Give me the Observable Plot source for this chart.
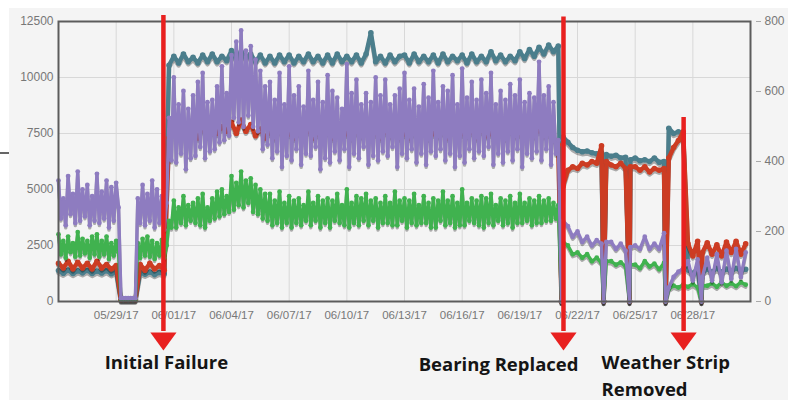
<!DOCTYPE html>
<html><head><meta charset="utf-8">
<script src="https://cdn.jsdelivr.net/npm/d3@7"></script>
<script src="https://cdn.jsdelivr.net/npm/@observablehq/plot@0.6"></script>
<style>
body{margin:0;background:#fff;width:794px;height:400px;overflow:hidden;position:relative;font-family:"Liberation Sans",Arial,sans-serif}
#bg{position:absolute;left:9px;top:8px;width:779px;height:392px;background:#f4f4f4}
#mark{position:absolute;left:0;top:152px;width:9px;height:1.5px;background:#666}
#chart{position:absolute;left:0;top:0}
</style></head><body>
<div id="bg"></div><div id="mark"></div><div id="chart"></div>
<script>
const startDate = "2017-05-26T00:00:00Z";   // first reading, left-axis part
const afterDate = "2017-06-21T06:00:00Z";   // first reading after the bearing change, right-axis part
const endDate = "2017-07-01T00:00:00Z";

// ---- left-axis readings, 05/26 00:00 - 06/21 00:00 ----
// teal & red: one reading every 6 h
const tealLeft = [1380,1260,1400,1250,1370,1280,1390,1250,1360,1270,1380,1240,1350,
  60,60,60,60,
  1300,1220,1320,1200,1300,1230,
  10550,
  10950,10650,11050,10700, 10900,10650,11000,10700, 11050,10700,10950,10750, 11200,10800,11150,10850,
  11050,10700,11000,10650, 10950,10650,11000,10700, 11000,10650,10950,10700, 11050,10700,10950,10650,
  11000,10650,11050,10700, 10950,10700,11000,10650, 11050,12000,10700,10950, 10650,11000,10700,10950,
  11000,10650,11050,10700, 10950,10700,11000,10650, 11050,10700,10950,10750, 11000,10650,11050,10700,
  10950,10700,11150,10750, 11000,10700,10950,10750, 11150,10850,11250,10950, 11350,11050,11450,11150,
  11400];
const redLeft = [1700,1500,1800,1450,1750,1500,1700,1450,1800,1500,1650,1450,1600,
  80,80,80,80,
  1650,1400,1700,1450,1600,1400,
  7300,
  7600,7300,7700,7400, 7500,7300,7800,7400, 7600,7500,7800,7600, 8000,7500,8100,7600,
  7900,7400,7700,7300, 7600,7300,7700,7400, 7500,7300,7600,7400, 7700,7300,7500,7400,
  7600,7300,7700,7400, 7500,7300,7600,7400, 7700,7400,7500,7300, 7600,7400,7700,7300,
  7500,7300,7600,7400, 7700,7300,7500,7400, 7600,7300,7700,7400, 7500,7400,7600,7300,
  7700,7400,7500,7300, 7600,7300,7700,7400, 7500,7300,7600,7400, 7700,7400,7500,7300,
  7000];
// green & purple: one reading every 3 h
const greenLeft = [
  3000,2100,2700,1950,2900,2200,2600,2000, 3100,2050,2800,2150,2700,1950,2900,2100,
  3000,2000,2700,2100,2900,1900,2600,2050, 2700,2200,
  80,80,80,80,80,80,80,
  2600,1950,2800,2050,2900,2000,2700,1900,2600,2050,2750,1950,2500,
  3600,3300,
  4500,3300,4200,3500,4700,3400,4300,3600, 4400,3500,4600,3400,4800,3300,4200,3600,
  4600,3700,4900,3800,5000,3900,4700,4000, 5600,4100,5300,4300,5800,4200,5400,4400,
  5500,4000,5200,3900,5000,3700,4800,3600, 4800,3400,4500,3500,4900,3300,4400,3500,
  4700,3300,4500,3500,4600,3400,4300,3600, 4900,3400,4400,3600,4700,3300,4500,3500,
  4600,3300,4500,3600,4800,3500,4300,3400, 5000,3300,4400,3500,4700,3400,4600,3600,
  4800,3400,4500,3600,4600,3300,4400,3500, 4700,3500,4400,3400,4900,3400,4500,3600,
  4600,3300,4500,3500,4800,3400,4300,3500, 4700,3500,4400,3300,4600,3300,4500,3600,
  4900,3400,4500,3500,4700,3300,4400,3400, 5000,3400,4400,3600,4600,3500,4500,3400,
  4700,3300,4600,3500,4800,3400,4300,3600, 4600,3400,4500,3500,4700,3300,4400,3500,
  4800,3500,4400,3600,4600,3400,4500,3500, 4700,3500,4500,3600,4600,3600,4400,3700,
  4300];
const purpleLeft = [
  5400,3700,4600,3400,5600,3900,4800,3500, 5800,3600,5000,3800,5200,3400,4700,3600,
  5700,3500,4900,3700,5400,3300,5100,3600, 5300,4200,
  150,150,150,150,150,150,150,
  4600,3500,5200,3400,4800,3600,5400,3300,5000,3500,4700,3200,4400,
  8200,6300,
  10000,6200,8800,6600,9400,5900,8600,6400, 9200,6500,9800,6900,10200,6400,8900,6700,
  9000,6800,9600,7100,10500,7200,9300,7400, 11000,8200,11600,8000,12100,7800,11200,8300,
  11400,7800,10800,7600,10300,6800,9600,7000, 9800,6400,9000,6700,10200,6000,8800,6500,
  10500,6300,9200,6800,9600,6100,8700,6600, 10300,6500,9000,6900,9800,5900,8900,6400,
  10100,6200,9400,6700,9100,6300,8600,6800, 10600,6000,9300,6600,9900,6400,8800,6900,
  9300,6100,8900,6500,10000,6300,9200,6700, 9900,6500,8800,6900,9200,6000,9500,6600,
  10200,6400,9000,6800,9500,6200,8700,6600, 9700,6100,9100,6700,10300,6500,8900,6800,
  9600,6300,9400,6600,10100,6000,8800,6500, 10400,6200,9100,6800,9800,6400,9000,6700,
  9900,6500,9300,6900,10200,6100,8800,6600, 9400,6200,9000,6700,9700,6300,9200,6800,
  9900,6000,8900,6600,9300,6400,9100,6700, 10700,6300,9200,6800,9600,6100,8900,6600,
  7200];

// ---- right-axis readings, 06/21 06:00 - 06/30 18:00, one every 6 h ----
const tealRight = [470,455,440,432,428,430,425,422,425,420,415,418,410,412,405,410,402,405,400,410,398,400,
  495,480,485,480,
  90,80,95,82,92,85,95,84,93,86,95,88,92];
const redRight = [330,375,385,380,395,390,400,395,445,400,390,385,395,380,385,385,375,385,370,380,375,380,
  410,440,460,485,
  165,130,172,140,168,135,162,130,170,140,172,135,165];
const greenRight = [170,160,135,140,125,135,115,125,110,115,115,105,112,100,105,105,95,115,100,108,92,110,
  35,45,40,48,
  42,50,40,45,45,52,42,55,45,52,44,55,48];
const purpleRight = [230,215,185,200,170,185,160,175,165,170,170,150,165,145,155,160,150,185,150,165,150,195,
  40,70,85,95,
  115,60,120,70,125,60,135,55,145,65,150,70,140];

// brief outages where every reading falls to zero
const outageDates = ["2017-06-21T04:00:00Z","2017-06-23T08:40:00Z","2017-06-24T17:00:00Z",
  "2017-06-26T14:00:00Z","2017-06-28T10:50:00Z"];

const leftTicks = [0, 2500, 5000, 7500, 10000, 12500];
const rightTicks = [0, 200, 400, 600, 800];
const rightMax = 800, leftMax = 12500;
const xTicks = ["2017-05-29","2017-06-01","2017-06-04","2017-06-07","2017-06-10","2017-06-13",
  "2017-06-16","2017-06-19","2017-06-22","2017-06-25","2017-06-28"];

const eventDates = ["2017-05-31T11:00:00Z","2017-06-21T06:30:00Z","2017-06-27T12:30:00Z"];
const eventLabels = ["Initial Failure","Bearing Replaced","Weather Strip\nRemoved"];
const eventArrowTops = [12770, 12700, 8214];

const seriesNames = ["teal","red","green","purple"];
const seriesColors = ["#4b7e8c","#cc3c23","#40b24f","#8e7cc0"];
const seriesLeft = [tealLeft, redLeft, greenLeft, purpleLeft];
const seriesLeftStep = [6, 6, 3, 3];
const seriesRight = [tealRight, redRight, greenRight, purpleRight];
const seriesRightStep = [6, 6, 6, 6];
const seriesWidth = [4.4, 4.4, 3.4, 3.4];
const seriesDot = [2.8, 2.8, 2.4, 2.4];

const toLeft = leftMax / rightMax;
function build(i) {
  const rows = [];
  const a = new Date(startDate).getTime(), b = new Date(afterDate).getTime();
  seriesLeft[i].forEach((v, k) => rows.push({date: new Date(a + k * seriesLeftStep[i] * 3600e3), value: v}));
  seriesRight[i].forEach((v, k) => rows.push({date: new Date(b + k * seriesRightStep[i] * 3600e3), value: v * toLeft}));
  for (const d of outageDates) rows.push({date: new Date(d), value: 0});
  return rows.sort((p, q) => p.date - q.date);
}

const seriesMarks = [];
seriesNames.forEach((name, i) => {
  const data = build(i);
  seriesMarks.push(Plot.line(data, {x: "date", y: "value", stroke: "#000", strokeOpacity: 0.3, strokeWidth: seriesWidth[i], dy: 2.5}));
  seriesMarks.push(Plot.line(data, {x: "date", y: "value", stroke: seriesColors[i], strokeWidth: seriesWidth[i]}));
  seriesMarks.push(Plot.dot(data, {x: "date", y: "value", fill: seriesColors[i], r: seriesDot[i]}));
});

const events = eventDates.map((d, i) => ({date: new Date(d), label: eventLabels[i], top: eventArrowTops[i]}));
const downArrow = {draw(ctx, size) {
  const s = Math.sqrt(size), w = s * 0.82, h = s * 1.13;
  ctx.moveTo(-w, 0); ctx.lineTo(w, 0); ctx.lineTo(0, h); ctx.closePath();
}};
const red = "#e8201f";
const labelStyle = {fontFamily: "'Open Sans', sans-serif", fontWeight: 700, fontSize: 18.5, fill: "#151515", lineAnchor: "bottom", frameAnchor: "bottom"};

const chart = Plot.plot({
  width: 794, height: 400,
  marginLeft: 58, marginRight: 44, marginTop: 21, marginBottom: 99,
  style: {background: "transparent", fontFamily: "'Liberation Sans', Arial, sans-serif", fontSize: "12px"},
  x: {type: "utc", domain: [new Date(startDate), new Date(endDate)], label: null},
  y: {domain: [0, leftMax], label: null},
  marks: [
    Plot.gridY(leftTicks.filter(v => v > 0 && v < leftMax), {stroke: "#d8d8d8", strokeOpacity: 1}),
    Plot.gridX(xTicks.map(d => new Date(d)), {stroke: "#d8d8d8", strokeOpacity: 1}),
    ...seriesMarks,
    Plot.frame({stroke: "#5c5c5c", strokeWidth: 2}),
    Plot.axisY(leftTicks, {anchor: "left", tickSize: 0, tickPadding: 5, fill: "#777", tickFormat: d => String(d), label: null}),
    Plot.axisY(rightTicks.map(v => v * toLeft), {anchor: "right", tickSize: 5, tickPadding: 4, dx: 5, stroke: "#aaa", fill: "#777", tickFormat: d => String(Math.round(d / toLeft)), label: null}),
    Plot.axisX(xTicks.map(d => new Date(d)), {tickSize: 0, tickPadding: 9, fontSize: 11.5, fill: "#777", tickFormat: d3.utcFormat("%m/%d/%y"), label: null}),
    Plot.ruleX(events, {x: "date", y1: "top", y2: -1340, stroke: red, strokeWidth: 4.5}),
    Plot.dot(events, {x: "date", frameAnchor: "bottom", dy: 31, symbol: downArrow, r: 9, fill: red}),
    Plot.text(events.slice(0, 1), {x: "date", text: "label", dx: 3, dy: 67, ...labelStyle}),
    Plot.text(events.slice(1, 2), {x: "date", text: "label", dx: 15, dy: 69, textAnchor: "end", ...labelStyle}),
    Plot.text(events.slice(2, 3), {x: "date", text: "label", dx: -82, dy: 94, textAnchor: "start", lineHeight: 1.45, ...labelStyle})
  ]
});
document.getElementById("chart").appendChild(chart);
</script>
</body></html>
